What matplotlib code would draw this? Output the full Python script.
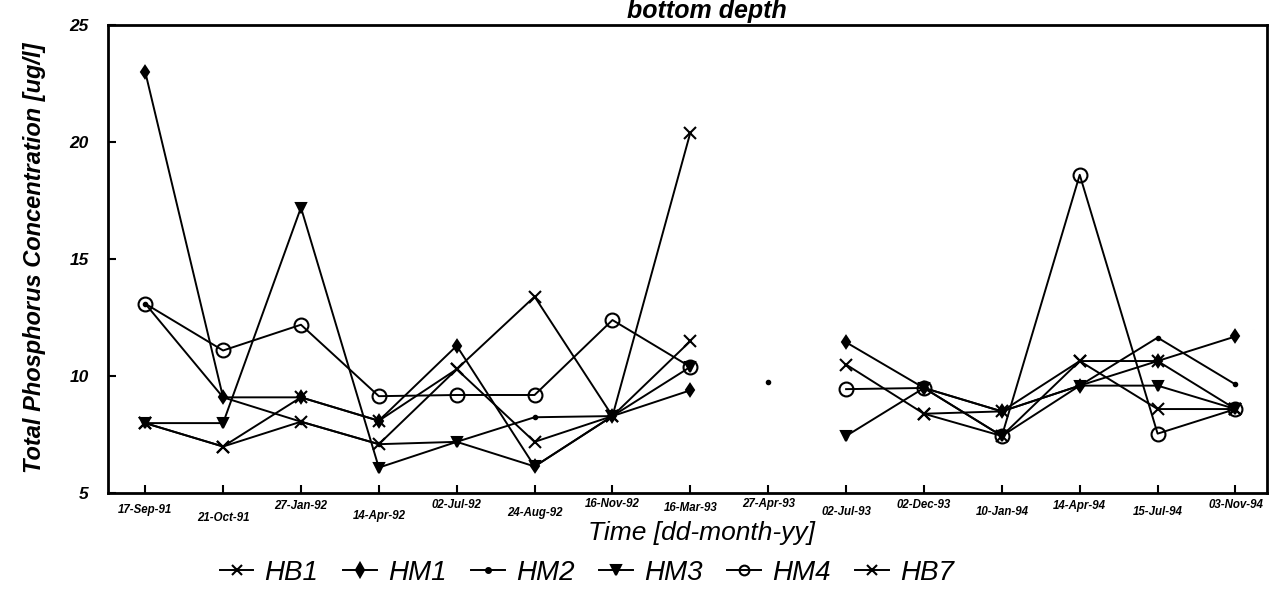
import numpy as np
import matplotlib
matplotlib.use('Agg')
from matplotlib import pyplot as plt

nan = np.nan

dates = ['17-Sep-91', '21-Oct-91', '27-Jan-92', '14-Apr-92', '02-Jul-92',
         '24-Aug-92', '16-Nov-92', '16-Mar-93', '27-Apr-93', '02-Jul-93',
         '02-Dec-93', '10-Jan-94', '14-Apr-94', '15-Jul-94', '03-Nov-94']

hb1 = [8.0, 7.0, 9.1, 8.1, 10.3, 13.4, 8.3, 20.4, nan, 10.5, 8.4, 8.5, 10.65, 10.65, 8.6]
hm1 = [23.0, 9.1, 9.1, 8.1, 11.3, 6.15, 8.3, 9.4, nan, 11.45, 9.5, 8.5, 9.6, 10.65, 11.7]
hm2 = [13.1, 9.1, 8.06, 7.1, 7.2, 8.25, 8.3, nan, 9.75, nan, 9.5, 8.5, 9.6, 11.65, 9.65]
hm3 = [8.0, 8.0, 17.2, 6.1, 7.2, 6.15, 8.3, 10.4, nan, 7.45, 9.5, 7.45, 9.6, 9.6, 8.6]
hm4 = [13.1, 11.1, 12.2, 9.15, 9.2, 9.2, 12.4, 10.4, nan, 9.45, 9.5, 7.45, 18.6, 7.55, 8.6]
hb7 = [8.0, 7.0, 8.06, 7.1, 10.3, 7.2, 8.3, 11.5, nan, nan, 8.4, 7.45, 10.65, 8.6, 8.6]

fnt = 'Liberation Sans'

fig = plt.figure(figsize=(12.73, 5.93), dpi=100)
ax = fig.add_axes([0.085, 0.168, 0.91, 0.79])

x = np.arange(len(dates))
series = [('HB1', hb1, 'x', 9, 'none'),
          ('HM1', hm1, 'd', 6, 'black'),
          ('HM2', hm2, '.', 5, 'black'),
          ('HM3', hm3, 'v', 7, 'black'),
          ('HM4', hm4, 'o', 10, 'none'),
          ('HB7', hb7, 'x', 9, 'none')]
for name, vals, mk, ms, fc in series:
    ax.plot(x, vals, color='black', lw=1.4, marker=mk, markersize=ms,
            markerfacecolor=fc, markeredgecolor='black', markeredgewidth=1.5,
            label=name)

ax.set_xlim(-0.475, 14.4)
ax.set_ylim(5, 25)
ax.set_yticks([5, 10, 15, 20, 25])
ax.set_yticklabels(['5', '10', '15', '20', '25'], fontfamily=fnt,
                   fontsize=12.5, fontweight='bold', fontstyle='italic')
ax.set_xticks(x)
ax.set_xticklabels([])
ax.tick_params(direction='in', length=6, width=1.5)
ax.tick_params(axis='y', pad=14)
for s in ax.spines.values():
    s.set_linewidth(2)

# staggered date labels, as in the original print
offs = [-0.022, -0.04, -0.015, -0.035, -0.012, -0.03, -0.01, -0.018,
        -0.01, -0.026, -0.012, -0.028, -0.014, -0.026, -0.012]
for i, d in enumerate(dates):
    ax.text(i, offs[i], d, transform=ax.get_xaxis_transform(), ha='center',
            va='top', fontfamily=fnt, fontsize=8.3, fontweight='bold',
            fontstyle='italic')

ax.text(0.512, -0.058, 'Time [dd-month-yy]', transform=ax.transAxes,
        ha='center', va='top', fontfamily=fnt, fontsize=19, fontstyle='italic')
fig.text(0.027, 0.565, 'Total Phosphorus Concentration [ug/l]', rotation=90,
         ha='center', va='center', fontfamily=fnt, fontsize=17,
         fontweight='bold', fontstyle='italic')
fig.text(0.555, 0.982, 'bottom depth', ha='center', va='center', fontfamily=fnt,
         fontsize=18, fontweight='bold', fontstyle='italic')

leg = fig.legend(loc='lower center', bbox_to_anchor=(0.461, -0.03), ncol=6,
                 frameon=False, handlelength=1.2, columnspacing=0.9,
                 handletextpad=0.4, prop={'family': fnt, 'size': 20, 'style': 'italic'})
for h in leg.legend_handles:
    h.set_markersize(7)

fig.savefig('out.png', dpi=100)
